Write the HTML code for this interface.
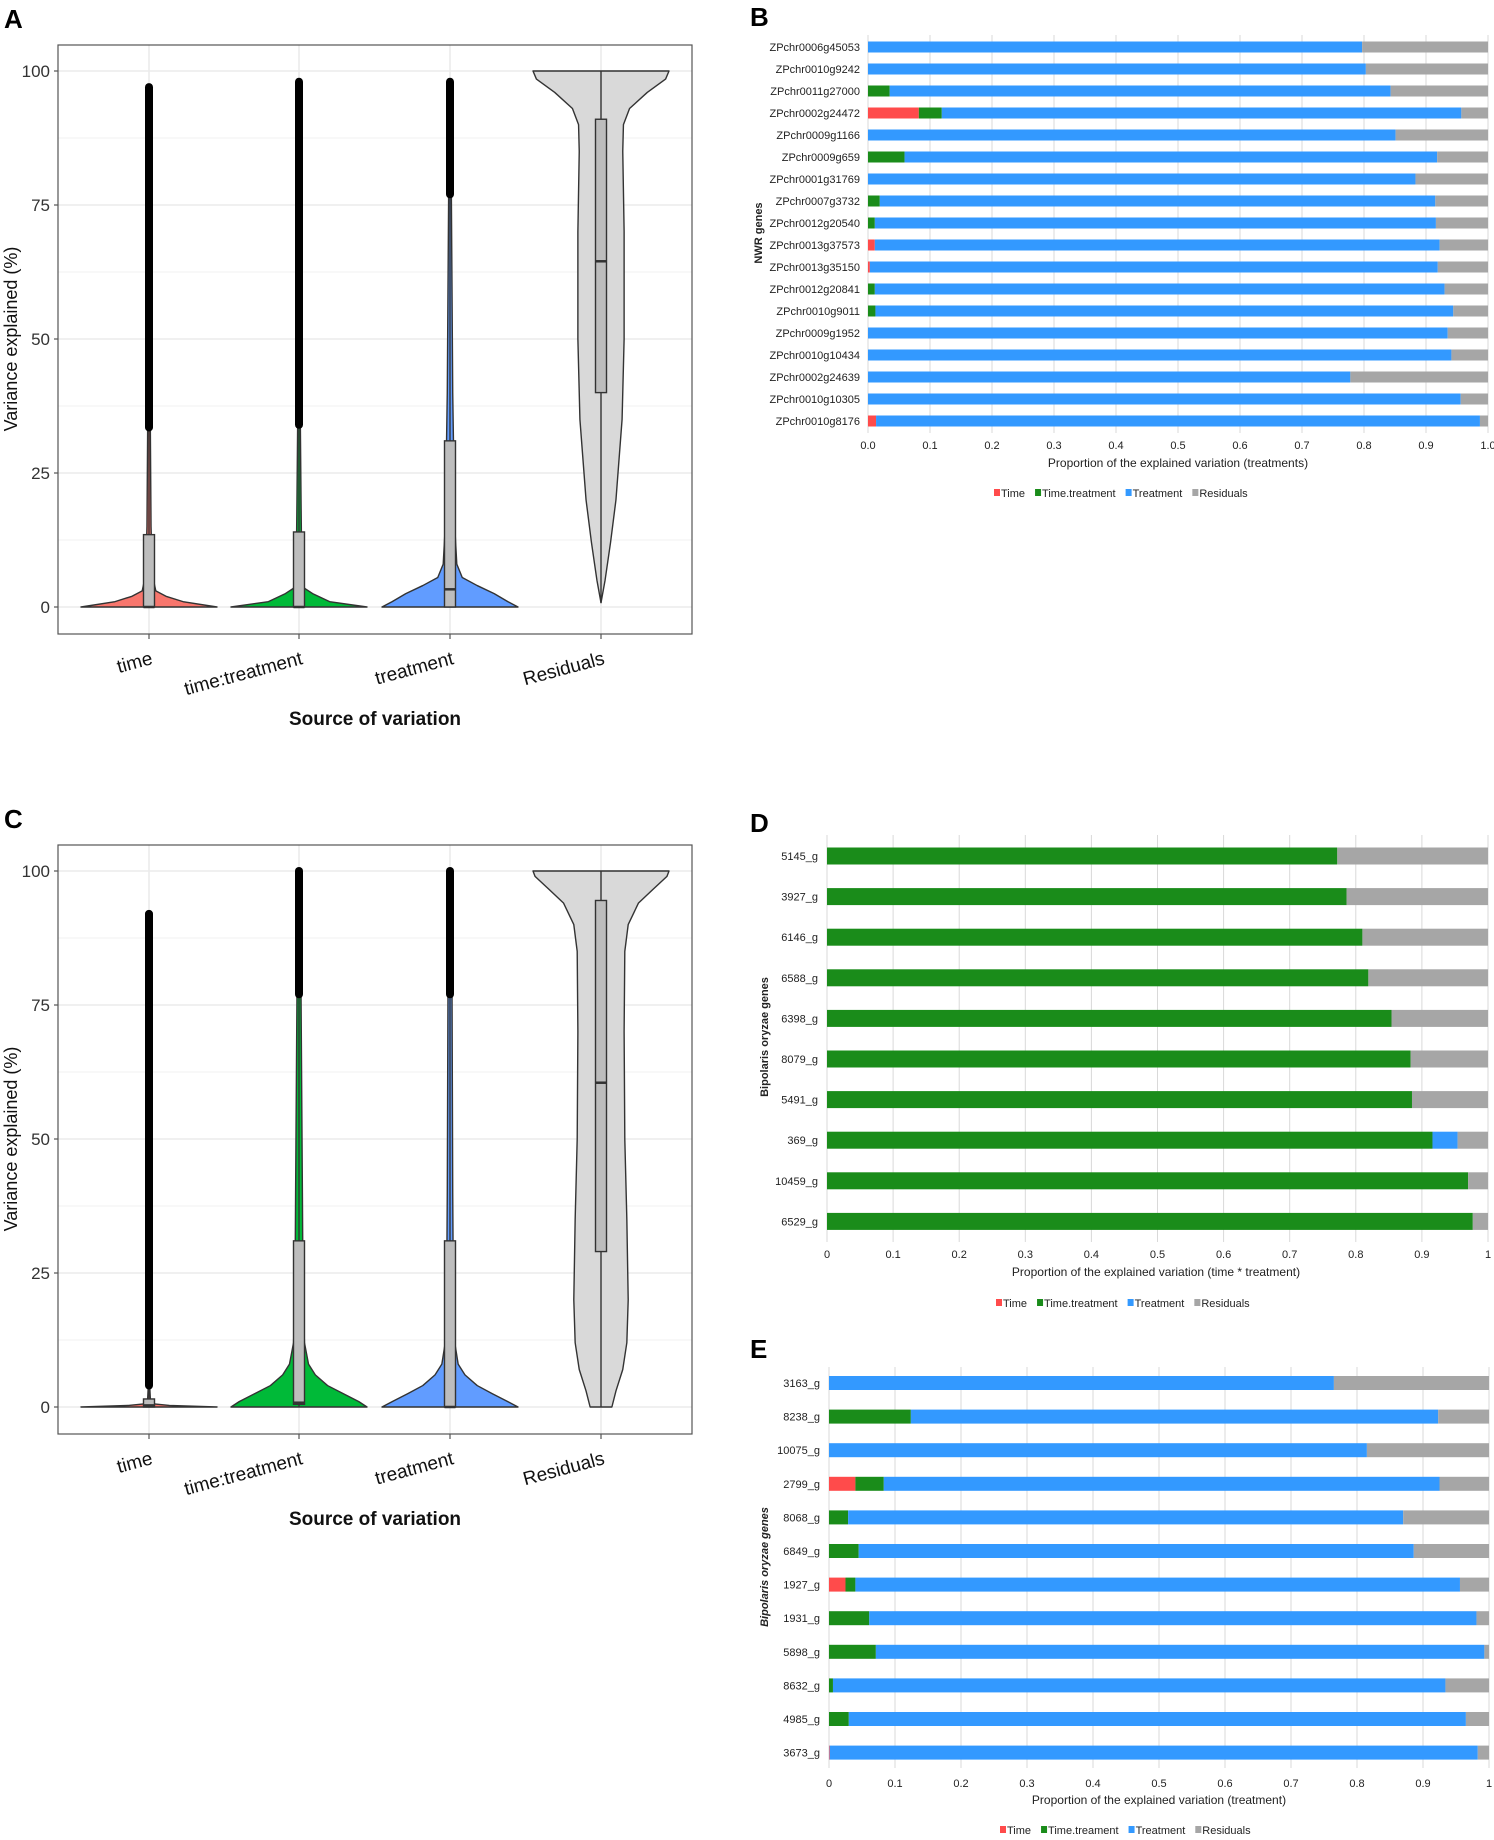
<!DOCTYPE html>
<html><head><meta charset="utf-8"><style>
html,body{margin:0;padding:0;background:#fff;}
svg{display:block;font-family:"Liberation Sans",sans-serif;}
.n{font-family:"Liberation Sans Narrow","Liberation Sans",sans-serif;}
</style></head><body>
<svg id="fig" width="1494" height="1840" viewBox="0 0 1494 1840" xmlns="http://www.w3.org/2000/svg">
<text x="4" y="28" font-size="26" font-weight="bold">A</text>
<text x="750" y="26" font-size="26" font-weight="bold">B</text>
<text x="4" y="828" font-size="26" font-weight="bold">C</text>
<text x="750" y="832" font-size="26" font-weight="bold">D</text>
<text x="750" y="1358" font-size="26" font-weight="bold">E</text>
<g id="pa"></g><g id="pc"></g><g id="pb"></g><g id="pd"></g><g id="pe"></g>
</svg>
<script>
// ---------- violin data ----------
const violinCats = ["time","time:treatment","treatment","Residuals"];
const violinColors = ["#F8766D","#00BA38","#619CFF","#D9D9D9"];
const yTicks = [0,25,50,75,100];
// density profiles: [value, relative half-width]
const densA_time = [[0,1],[1,0.5],[2,0.25],[3,0.1],[6,0.05],[15,0.03],[33,0.02]];
const densA_tt = [[0,1],[1,0.45],[2.5,0.2],[3.5,0.08],[8,0.04],[20,0.03],[34,0.02]];
const densA_tr = [[0,1],[1,0.85],[2.5,0.65],[4,0.4],[5.5,0.18],[8,0.1],[15,0.07],[40,0.04],[77,0.02]];
const densA_res = [[0.8,0],[5,0.06],[12,0.14],[20,0.22],[35,0.31],[50,0.34],[70,0.34],[85,0.32],[90,0.33],[93,0.42],[96,0.68],[98.5,0.95],[100,1]];
const densC_time = [[0,1],[0.3,0.3],[0.6,0.06],[1.5,0.02],[4,0.01]];
const densC_tt = [[0,1],[1,0.88],[2.5,0.65],[4,0.42],[6,0.24],[8,0.14],[12,0.08],[20,0.06],[40,0.05],[77,0.03]];
const densC_tr = [[0,1],[1,0.85],[2.5,0.62],[4,0.4],[6,0.22],[8,0.12],[12,0.07],[20,0.05],[40,0.04],[77,0.03]];
const densC_res = [[0,0.16],[3,0.22],[7,0.32],[12,0.38],[20,0.4],[35,0.38],[50,0.35],[70,0.34],[85,0.35],[90,0.4],[94,0.55],[97,0.8],[99,0.97],[100,1]];
// box stats: [q1, median, q3, whiskerLow, whiskerHigh, outlierMin, outlierMax]
const boxA = [[0,0,13.5,0,33.5,33.5,97],[0,0,14,0,34,34,98],[0,3.3,31,0,77,77,98],[40,64.5,91,0.8,100,null,null]];
const boxC = [[0,0.3,1.5,0,4,4,92],[0.5,0.8,31,0,77,77,100],[0,0,31,0,77,77,100],[29,60.5,94.5,0,100,null,null]];

const NS="http://www.w3.org/2000/svg";
function mk(parent,tag,attrs,txt){const e=document.createElementNS(NS,tag);for(const k in attrs)e.setAttribute(k,attrs[k]);if(txt!==undefined)e.textContent=txt;parent.appendChild(e);return e;}

function violinPanel(gid,oy,dens,boxes,nm){
  const g=document.getElementById(gid);
  const L=58,R=692,T=45+oy,B=634+oy;
  const y=v=>607+oy-(v/100)*536;
  const xs=[149,299,450,601];
  const maxHW=68;
  const bg=mk(g,'rect',{x:L,y:T,width:R-L,height:B-T,fill:'#fff',stroke:'none'});
  
  for(let v=-12.5;v<=112.5;v+=12.5){const yy=y(v);if(yy<T||yy>B)continue;
    const gl=mk(g,'line',{x1:L,x2:R,y1:yy,y2:yy,stroke:'#ebebeb','stroke-width':(v%25===0)?1.6:0.8});
    }
  xs.forEach(x=>{const gl=mk(g,'line',{x1:x,x2:x,y1:T,y2:B,stroke:'#ebebeb','stroke-width':1.6});
    });
  yTicks.forEach(t=>{
    const tl=mk(g,'text',{x:L-8,y:y(t)+6,'text-anchor':'end','font-size':17,fill:'#333'},String(t));
    
    mk(g,'line',{x1:L-4,x2:L,y1:y(t),y2:y(t),stroke:'#333','stroke-width':1});
  });
  violinCats.forEach((c,i)=>{
    const x=xs[i],d=dens[i],b=boxes[i];
    const grp=mk(g,'g',{});
    
    
    let p='M'+(x+d[0][1]*maxHW)+','+y(d[0][0]);
    for(let k=1;k<d.length;k++)p+=' L'+(x+d[k][1]*maxHW)+','+y(d[k][0]);
    for(let k=d.length-1;k>=0;k--)p+=' L'+(x-d[k][1]*maxHW)+','+y(d[k][0]);
    p+=' Z';
    mk(grp,'path',{d:p,fill:violinColors[i],stroke:'#333','stroke-width':1.4,'stroke-linejoin':'round'});
    mk(grp,'line',{x1:x,x2:x,y1:y(b[3]),y2:y(b[4]),stroke:'#333','stroke-width':1.4});
    if(b[5]!==null){
      const o=mk(grp,'line',{x1:x,x2:x,y1:y(b[5]),y2:y(b[6]),stroke:'#000','stroke-width':8,'stroke-linecap':'round'});
      
    }
    const bx=mk(grp,'rect',{x:x-5.5,y:y(b[2]),width:11,height:Math.max(2,y(b[0])-y(b[2])),fill:'#bdbdbd',stroke:'#333','stroke-width':1.4});
    
    mk(grp,'line',{x1:x-5.5,x2:x+5.5,y1:y(b[1]),y2:y(b[1]),stroke:'#333','stroke-width':2.5});
    mk(g,'line',{x1:x,x2:x,y1:B,y2:B+5,stroke:'#333','stroke-width':1});
    const xl=mk(g,'text',{x:x+3,y:B+30,'text-anchor':'end','font-size':19,fill:'#111',transform:'rotate(-15 '+(x+3)+' '+(B+24)+')'},c);
    
  });
  mk(g,'rect',{x:L,y:T,width:R-L,height:B-T,fill:'none',stroke:'#555','stroke-width':1.2});
  const yt=mk(g,'text',{x:0,y:0,'text-anchor':'middle','font-size':18,fill:'#111',transform:'translate(17,'+(y(50))+') rotate(-90)'},'Variance explained (%)');
  
  const xt=mk(g,'text',{x:(L+R)/2,y:725+oy,'text-anchor':'middle','font-size':19,'font-weight':'bold',fill:'#111'},'Source of variation');
  
}
violinPanel('pa',0,[densA_time,densA_tt,densA_tr,densA_res],boxA,'panel-a');
violinPanel('pc',800,[densC_time,densC_tt,densC_tr,densC_res],boxC,'panel-c');

// ---------- bar data ----------
const barColors=["#FF4B4B","#1A8C1A","#3399FF","#A6A6A6"];
const genesB=["ZPchr0006g45053","ZPchr0010g9242","ZPchr0011g27000","ZPchr0002g24472","ZPchr0009g1166","ZPchr0009g659","ZPchr0001g31769","ZPchr0007g3732","ZPchr0012g20540","ZPchr0013g37573","ZPchr0013g35150","ZPchr0012g20841","ZPchr0010g9011","ZPchr0009g1952","ZPchr0010g10434","ZPchr0002g24639","ZPchr0010g10305","ZPchr0010g8176"];
const timeB=[0,0,0,0.082,0,0,0,0,0,0.011,0.003,0,0,0,0,0,0,0.013];
const ttB=[0,0,0.035,0.037,0,0.059,0,0.019,0.011,0,0,0.011,0.012,0,0,0,0,0];
const treatB=[0.797,0.803,0.808,0.838,0.851,0.859,0.883,0.896,0.905,0.911,0.916,0.919,0.932,0.935,0.941,0.778,0.956,0.974];
const ticksB=["0.0","0.1","0.2","0.3","0.4","0.5","0.6","0.7","0.8","0.9","1.0"];

const genesD=["5145_g","3927_g","6146_g","6588_g","6398_g","8079_g","5491_g","369_g","10459_g","6529_g"];
const timeD=[0,0,0,0,0,0,0,0,0,0];
const ttD=[0.772,0.786,0.810,0.819,0.854,0.883,0.885,0.916,0.970,0.977];
const treatD=[0,0,0,0,0,0,0,0.038,0,0];
const ticksD=["0","0.1","0.2","0.3","0.4","0.5","0.6","0.7","0.8","0.9","1"];

const genesE=["3163_g","8238_g","10075_g","2799_g","8068_g","6849_g","1927_g","1931_g","5898_g","8632_g","4985_g","3673_g"];
const timeE=[0,0,0,0.04,0,0,0.025,0,0,0,0,0.001];
const ttE=[0,0.124,0,0.043,0.029,0.045,0.015,0.061,0.071,0.006,0.03,0];
const treatE=[0.765,0.799,0.815,0.842,0.841,0.841,0.916,0.92,0.922,0.928,0.935,0.982];
const ticksE=ticksD;

function barPanel(gid,cfg){
  const g=document.getElementById(gid);
  const x=v=>cfg.x0+v*(cfg.x1-cfg.x0);
  cfg.ticks.forEach((t,i)=>{const v=i/10;
    const gl=mk(g,'line',{x1:x(v),x2:x(v),y1:cfg.gt,y2:cfg.gb,stroke:'#d9d9d9','stroke-width':1});
    
    const tl=mk(g,'text',{x:x(v),y:cfg.ty+4,'text-anchor':'middle','font-size':cfg.fs,class:'n',fill:'#222'},t);
    
  });
  cfg.genes.forEach((gn,i)=>{
    const cy=cfg.c0+i*cfg.sp,top=cy-cfg.bh/2;
    const vals=[cfg.time[i],cfg.tt[i],cfg.treat[i]];
    vals.push(Math.max(0,1-vals[0]-vals[1]-vals[2]));
    let acc=0;
    const row=mk(g,'g',{});
    
    
    vals.forEach((v,k)=>{ if(v>0){ mk(row,'rect',{x:x(acc),y:top,width:x(acc+v)-x(acc),height:cfg.bh,fill:barColors[k]}); } acc+=v; });
    const lb=mk(g,'text',{x:cfg.lx,y:cy+4,'text-anchor':'end','font-size':cfg.fs,class:'n',fill:'#222'},gn);
    
  });
  const xt=mk(g,'text',{x:cfg.tx,y:cfg.tly+4,'text-anchor':'middle','font-size':cfg.fs+1,class:'n',fill:'#222'},cfg.title);
  
  const yt=mk(g,'text',{x:0,y:0,'text-anchor':'middle','font-size':cfg.fs,'font-weight':'bold','font-style':cfg.ital?'italic':'normal',fill:'#222',transform:'translate('+cfg.yx+','+cfg.yy+') rotate(-90)'},cfg.ytitle);
  
  const names=["Time",cfg.ttName,"Treatment","Residuals"];
  const lg=mk(g,'g',{});
  
  
  let lx=cfg.legx;
  names.forEach((n,k)=>{
    mk(lg,'rect',{x:lx,y:cfg.legy-4,width:6,height:7,fill:barColors[k]});
    const t=mk(lg,'text',{x:lx+7,y:cfg.legy+4,'font-size':cfg.fs,class:'n',fill:'#222'},n);
    
    let w=n.length*cfg.fs*0.5;
    try{w=t.getComputedTextLength();}catch(e){}
    lx+=7+w+10;
  });
}
barPanel('pb',{x0:868,x1:1488,gt:35,gb:433,c0:47,sp:22,bh:11,ty:445,tx:1178,tly:463,legx:994,legy:493,lx:860,fs:11,yx:762,yy:233,genes:genesB,time:timeB,tt:ttB,treat:treatB,ticks:ticksB,title:"Proportion of the explained variation (treatments)",ytitle:"NWR genes",ttName:"Time.treatment",ital:false});
barPanel('pd',{x0:827,x1:1488,gt:835,gb:1242,c0:856,sp:40.6,bh:17,ty:1254,tx:1156,tly:1272,legx:996,legy:1303,lx:818,fs:11,yx:768,yy:1037,genes:genesD,time:timeD,tt:ttD,treat:treatD,ticks:ticksD,title:"Proportion of the explained variation (time * treatment)",ytitle:"Bipolaris oryzae genes",ttName:"Time.treatment",ital:false});
barPanel('pe',{x0:829,x1:1489,gt:1367,gb:1768,c0:1383,sp:33.6,bh:14,ty:1783,tx:1159,tly:1800,legx:1000,legy:1830,lx:820,fs:11,yx:768,yy:1567,genes:genesE,time:timeE,tt:ttE,treat:treatE,ticks:ticksE,title:"Proportion of the explained variation (treatment)",ytitle:"Bipolaris oryzae genes",ttName:"Time.treament",ital:true});
</script>
</body></html>
